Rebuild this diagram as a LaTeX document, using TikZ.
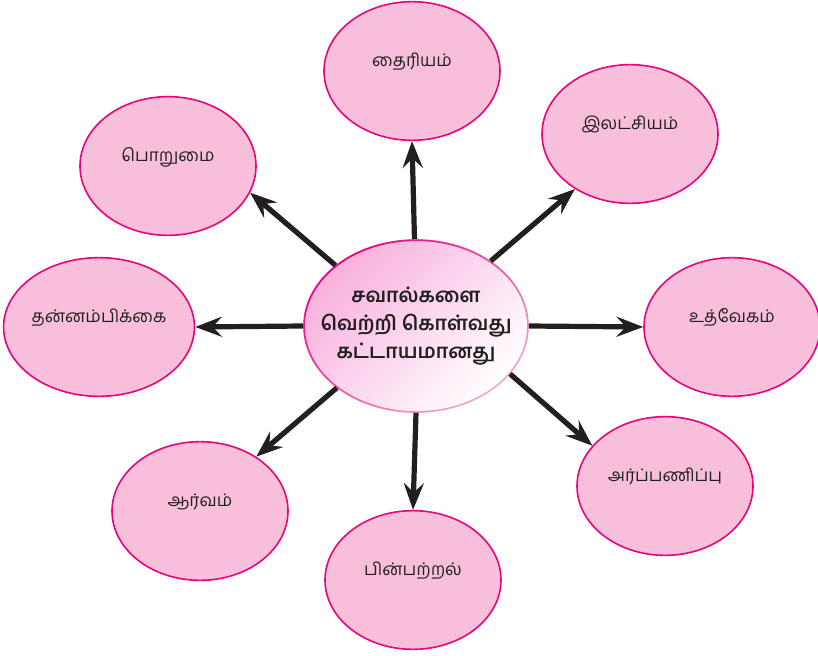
\documentclass[tikz,border=0pt]{standalone}
\usepackage{fontspec}
\newfontfamily\tamil[Script=Tamil]{Hind Madurai}
\usetikzlibrary{shapes.geometric,arrows.meta,fadings}
\definecolor{bubblefill}{HTML}{F7BFD9}
\definecolor{bubbleline}{HTML}{E5067F}
\definecolor{hubline}{HTML}{F3A9CD}
\definecolor{arrowgray}{HTML}{231F20}
\tikzset{
  bubble/.style={ellipse, draw=bubbleline, line width=1.2pt, fill=bubblefill,
    minimum width=132pt, minimum height=104pt, inner sep=0pt,
    font=\tamil\fontsize{13}{15}\selectfont, text=arrowgray,
    text height=9pt, text depth=16pt},
  hub/.style={ellipse, draw=hubline, line width=1.2pt, shading=axis,
    top color=bubblefill!92!magenta, bottom color=white, shading angle=45,
    minimum width=168pt, minimum height=129pt, inner xsep=-16pt, inner ysep=0pt,
    align=center, font=\tamil\bfseries\fontsize{15}{21}\selectfont,
    text=arrowgray},
  arr/.style={draw=arrowgray, line width=3.9pt,
    -{Stealth[length=20pt, width=15pt, inset=7pt]}}
}
\begin{document}
\begin{tikzpicture}[x=0.75pt, y=-0.75pt]
  \useasboundingbox (0,0) rectangle (818,656);
  \node[hub] (c) at (416,326) {சவால்களை\\வெற்றி கொள்வது\\கட்டாயமானது};
  % magenta rim fading out to the lower right
  \draw[bubbleline, line width=1.3pt, path fading=south, fading angle=45]
    (c.center) ellipse [x radius=84pt, y radius=64.5pt];
  \foreach \n/\x/\y/\t in {thai/412/71/தைரியம், ilat/630/134/இலட்சியம்,
      poru/168/166/பொறுமை, than/99/327/தன்னம்பிக்கை, uthv/732/327/உத்வேகம்,
      arpp/665/486/அர்ப்பணிப்பு, pinp/413/580/பின்பற்றல், aarv/200/511/ஆர்வம்}
    \node[bubble] (\n) at (\x,\y) {\t};
  \foreach \a/\n/\b in {91/thai/270, 41/ilat/225, 143/poru/342, 180/than/0,
      0/uthv/180, -27/arpp/151, -90/pinp/90, 218/aarv/44}
    \draw[arr] (c.\a) -- (\n.\b);
\end{tikzpicture}
\end{document}
